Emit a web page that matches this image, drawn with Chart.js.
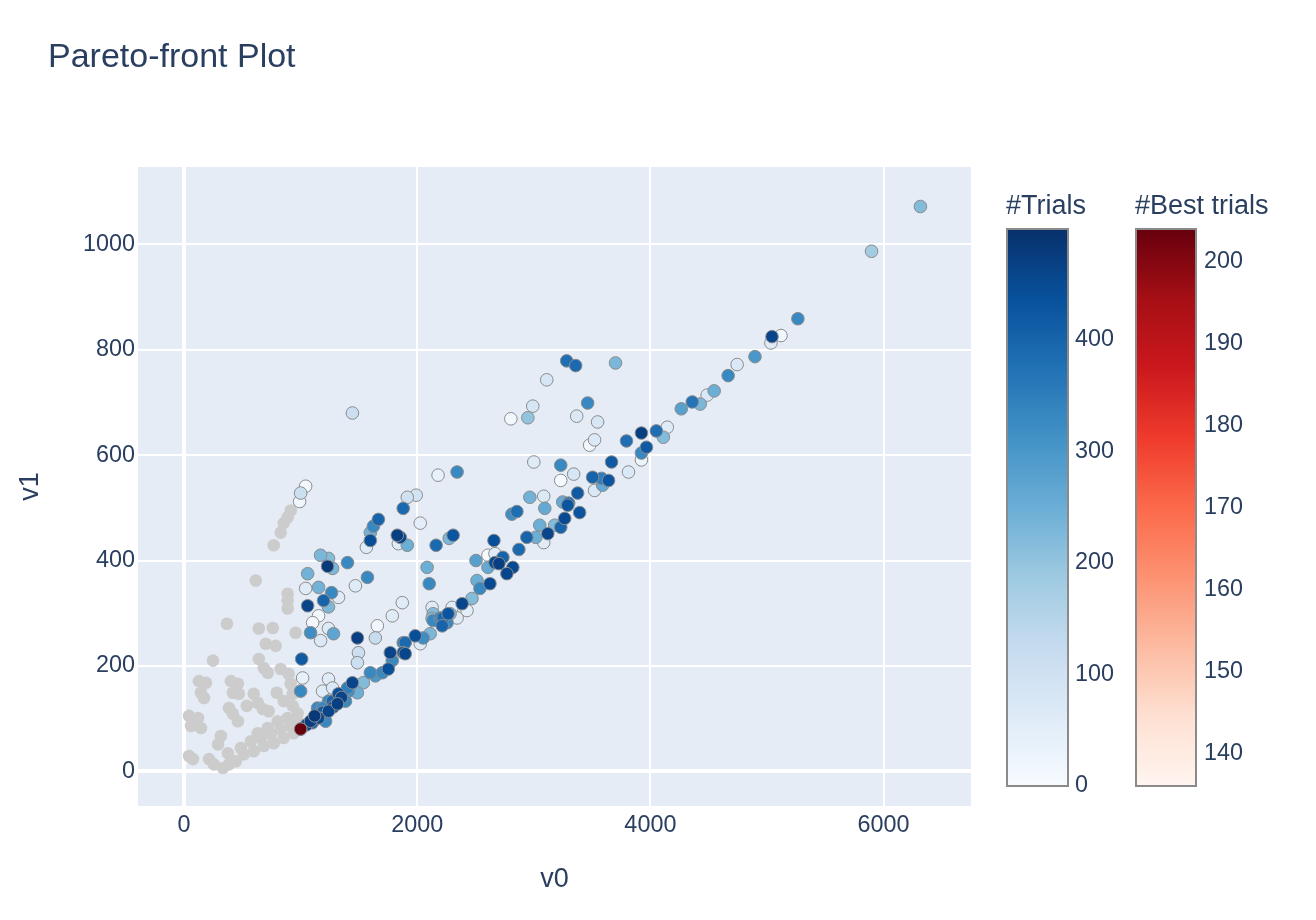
<!DOCTYPE html>
<html lang="en">
<head>
    <meta charset="UTF-8">
    <title>Pareto-front Plot</title>
    <script src="https://cdn.jsdelivr.net/npm/chart.js"></script>
    <style>
        html, body { margin: 0; padding: 0; background: #ffffff; }
        #wrap { width: 1316px; height: 920px; }
    </style>
</head>
<body>
    <div id="wrap">
        <canvas id="paretoChart" width="1316" height="920"></canvas>
    </div>

    <script>
        // axis ticks
        const xTicks = [0, 2000, 4000, 6000];
        const yTicks = [0, 200, 400, 600, 800, 1000];
        const trialTicks = [0, 100, 200, 300, 400];
        const bestTicks = [140, 150, 160, 170, 180, 190, 200];
        const trialRange = [0, 499];
        const bestRange = [136, 204];

        // trials outside the colour groups (grey)
        const greyV0 = [915, 889, 855, 829, 769, 615, 889, 889, 889, 368, 641, 761, 957, 701, 786, 248, 641, 684, 718, 829,
            897, 915, 932, 128, 188, 145, 171, 402, 462, 419, 470, 598, 632, 675, 726, 43, 120, 60, 145, 385,
            419, 462, 316, 291, 43, 77, 214, 256, 333, 385, 487, 573, 658, 744, 829, 915, 513, 598, 684, 769,
            855, 940, 376, 444, 632, 718, 803, 889, 974, 538, 855, 795, 932, 974];
        const greyV1 = [495, 482, 471, 453, 429, 362, 337, 324, 309, 280, 271, 272, 263, 242, 238, 210, 213, 196, 187, 194,
            185, 166, 147, 171, 168, 149, 139, 171, 166, 149, 147, 147, 130, 118, 114, 105, 101, 86, 82, 120,
            109, 95, 67, 51, 29, 23, 23, 13, 6, 13, 44, 57, 63, 70, 80, 86, 32, 38, 48, 53,
            63, 72, 34, 19, 72, 82, 95, 101, 95, 124, 133, 149, 124, 110];

        // trials coloured by trial number
        const trialV0 = [6316, 5897, 5265, 5043, 5120, 5034, 4897, 4744, 4667, 4547, 4487, 4359, 4427, 4265, 4145, 4111, 4051, 3923, 3966, 3923,
            3923, 3795, 3812, 3667, 3641, 3504, 3581, 3590, 3521, 3376, 3393, 3299, 3248, 3265, 3231, 3120, 3094, 3231, 3231, 3342,
            3111, 3282, 3359, 3701, 3462, 3368, 3547, 3521, 3479, 2991, 2803, 2949, 2342, 2179, 3000, 2966, 3085, 2812, 2855, 3291,
            3051, 3179, 3085, 2940, 3017, 2872, 2658, 2607, 2667, 2735, 2701, 2820, 2769, 2624, 2607, 2504, 2513, 2538, 2470, 2385,
            2427, 2308, 2274, 2162, 2085, 2103, 1880, 1855, 1915, 1915, 1991, 2026, 1872, 2137, 2137, 2222, 2214, 2282, 2342, 1983,
            2051, 1897, 1897, 2026, 1444, 1043, 1000, 991, 1667, 1624, 1598, 1598, 1564, 1829, 1838, 2667, 1171, 1239, 1231, 1274,
            1402, 1573, 1470, 1060, 1043, 1154, 1265, 1325, 1197, 1060, 1239, 1786, 1085, 1154, 1145, 1239, 1316, 1325, 1385, 1410,
            1444, 1402, 1487, 1538, 1598, 1641, 1701, 1752, 1769, 1786, 1880, 1880, 2111, 2128, 2197, 2265, 2256, 2299, 2128, 1658,
            1641, 1487, 1496, 1487, 1282, 1239, 1171, 1085, 1154, 1103, 1009, 1000, 1017, 1239, 1274, 1188, 1239, 1188, 1214, 1274,
            1050, 1120, 1190, 1280, 1350, 1100];
        const trialV1 = [1072, 987, 859, 825, 827, 813, 787, 772, 751, 722, 714, 701, 697, 688, 653, 634, 646, 642, 615, 604,
            591, 627, 568, 587, 552, 558, 556, 543, 533, 528, 491, 509, 511, 480, 463, 451, 499, 581, 552, 564,
            743, 779, 770, 775, 699, 674, 663, 629, 619, 693, 669, 671, 568, 562, 587, 520, 522, 488, 493, 505,
            467, 467, 434, 444, 444, 421, 438, 410, 413, 406, 394, 387, 375, 356, 387, 400, 362, 347, 328, 318,
            305, 448, 442, 429, 387, 356, 499, 444, 429, 520, 524, 471, 320, 299, 286, 291, 276, 299, 291, 257,
            253, 244, 223, 242, 680, 541, 528, 512, 478, 465, 453, 438, 425, 448, 432, 396, 410, 404, 389, 385,
            396, 368, 352, 375, 347, 349, 339, 330, 324, 314, 312, 295, 95, 101, 120, 114, 128, 147, 133, 152,
            168, 158, 149, 168, 187, 181, 187, 194, 225, 210, 225, 244, 261, 290, 291, 299, 282, 311, 311, 276,
            253, 253, 225, 206, 261, 271, 248, 263, 295, 282, 213, 152, 177, 175, 158, 152, 133, 120, 95, 133,
            88, 105, 112, 122, 140, 92];
        const trialNum = [220, 180, 330, 460, 20, 60, 300, 70, 330, 250, 70, 370, 230, 280, 60, 220, 380, 470, 420, 330,
            30, 380, 70, 420, 430, 400, 350, 260, 70, 420, 430, 380, 260, 450, 400, 460, 260, 330, 5, 80,
            80, 380, 390, 230, 330, 70, 80, 70, 10, 80, 10, 200, 330, 40, 60, 240, 70, 320, 380, 430,
            250, 220, 60, 400, 250, 390, 440, 5, 60, 400, 470, 450, 460, 450, 260, 280, 250, 330, 220, 460,
            50, 430, 230, 390, 250, 330, 390, 450, 250, 100, 90, 50, 60, 220, 330, 390, 400, 220, 60, 440,
            320, 390, 460, 60, 110, 10, 110, 20, 400, 330, 240, 440, 60, 470, 60, 450, 230, 220, 480, 230,
            330, 330, 60, 240, 60, 240, 330, 60, 400, 460, 230, 60, 470, 450, 330, 460, 470, 440, 330, 320,
            460, 350, 250, 220, 330, 300, 330, 440, 460, 330, 440, 350, 230, 220, 330, 430, 330, 60, 60, 20,
            120, 470, 110, 110, 270, 60, 70, 320, 10, 10, 420, 330, 40, 60, 70, 60, 330, 330, 330, 400,
            460, 480, 420, 440, 460, 400];

        // best trials
        const bestV0 = [1000, 1000];
        const bestV1 = [80, 80];
        const bestNum = [136, 204];

        const blues = [[0, [247, 251, 255]], [0.125, [222, 235, 247]], [0.25, [198, 219, 239]], [0.375, [158, 202, 225]],
            [0.5, [107, 174, 214]], [0.625, [66, 146, 198]], [0.75, [33, 113, 181]], [0.875, [8, 81, 156]], [1, [8, 48, 107]]];
        const reds = [[0, [255, 245, 240]], [0.125, [254, 224, 210]], [0.25, [252, 187, 161]], [0.375, [252, 146, 114]],
            [0.5, [251, 106, 74]], [0.625, [239, 59, 44]], [0.75, [203, 24, 29]], [0.875, [165, 15, 21]], [1, [103, 0, 13]]];

        function pickColor(stops, t) {
            t = Math.max(0, Math.min(1, t));
            for (let i = 1; i < stops.length; i++) {
                if (t <= stops[i][0]) {
                    const a = stops[i - 1], b = stops[i];
                    const f = (t - a[0]) / (b[0] - a[0]);
                    const c = a[1].map((v, k) => Math.round(v + (b[1][k] - v) * f));
                    return 'rgb(' + c.join(',') + ')';
                }
            }
            return 'rgb(' + stops[stops.length - 1][1].join(',') + ')';
        }

        const fontFamily = '"Liberation Sans", Arial, sans-serif';
        const textColor = '#2a3f5f';
        Chart.defaults.font.family = fontFamily;
        Chart.defaults.color = textColor;

        const greyPts = greyV0.map((v, i) => ({x: v, y: greyV1[i]}));
        // later trials are drawn on top
        const trialPts = trialV0.map((v, i) => ({x: v, y: trialV1[i], n: trialNum[i]}))
            .sort((a, b) => a.n - b.n);
        const trialColors = trialPts.map(p => pickColor(blues, (p.n - trialRange[0]) / (trialRange[1] - trialRange[0])));
        const bestPts = bestV0.map((v, i) => ({x: v, y: bestV1[i], n: bestNum[i]}));
        const bestColors = bestPts.map(p => pickColor(reds, (p.n - bestRange[0]) / (bestRange[1] - bestRange[0])));

        // plot background, title and the two colour bars
        const decor = {
            id: 'decor',
            beforeDraw(chart) {
                const {ctx, chartArea} = chart;
                ctx.save();
                ctx.fillStyle = '#E5ECF6';
                ctx.fillRect(chartArea.left, chartArea.top, chartArea.right - chartArea.left, chartArea.bottom - chartArea.top);
                ctx.restore();
            },
            afterDraw(chart) {
                const ctx = chart.ctx;
                ctx.save();
                ctx.fillStyle = textColor;
                ctx.font = '34px ' + fontFamily;
                ctx.textBaseline = 'alphabetic';
                ctx.textAlign = 'left';
                ctx.fillText('Pareto-front Plot', 48, 67);

                drawBar(ctx, 1007, 1068, trialRange, blues, trialTicks, '#Trials', 1075);
                drawBar(ctx, 1136, 1196, bestRange, reds, bestTicks, '#Best trials', 1204);
                ctx.restore();
            }
        };

        function drawBar(ctx, x0, x1, range, stops, ticks, title, labelX) {
            const top = 229, bot = 786;
            const g = ctx.createLinearGradient(0, bot, 0, top);
            stops.forEach(s => g.addColorStop(s[0], 'rgb(' + s[1].join(',') + ')'));
            ctx.fillStyle = g;
            ctx.fillRect(x0, top, x1 - x0, bot - top);
            ctx.strokeStyle = '#8a8a8a';
            ctx.lineWidth = 2;
            ctx.strokeRect(x0, top, x1 - x0, bot - top);

            ctx.fillStyle = textColor;
            ctx.font = '27px ' + fontFamily;
            ctx.textBaseline = 'alphabetic';
            ctx.fillText(title, x0 - 1, 214);

            ctx.font = '23.4px ' + fontFamily;
            ctx.textBaseline = 'middle';
            ticks.forEach(v => {
                const y = bot - (v - range[0]) / (range[1] - range[0]) * (bot - top);
                ctx.fillText(String(v), labelX, y);
            });
        }

        const gridWidth = c => (c.tick && c.tick.value === 0 ? 4 : 2);

        new Chart(document.getElementById('paretoChart'), {
            type: 'scatter',
            data: {
                datasets: [
                    {
                        label: 'Best trials',
                        data: bestPts,
                        order: 0,
                        pointBackgroundColor: bestColors,
                        pointBorderColor: '#8c8c8c',
                        pointBorderWidth: 1,
                        pointRadius: 6.3
                    },
                    {
                        label: 'Trials',
                        data: trialPts,
                        order: 1,
                        pointBackgroundColor: trialColors,
                        pointBorderColor: '#8c8c8c',
                        pointBorderWidth: 1,
                        pointRadius: 6.3
                    },
                    {
                        label: 'Other trials',
                        data: greyPts,
                        order: 2,
                        pointBackgroundColor: '#cccccc',
                        pointBorderWidth: 0,
                        pointRadius: 6.3
                    }
                ]
            },
            options: {
                responsive: false,
                animation: false,
                layout: { padding: { top: 167, right: 345, bottom: 0, left: 0 } },
                plugins: {
                    legend: { display: false },
                    tooltip: { enabled: false }
                },
                scales: {
                    x: {
                        type: 'linear',
                        min: -395,
                        max: 6750,
                        afterBuildTicks: s => { s.ticks = xTicks.map(v => ({value: v})); },
                        afterFit: s => { s.height = 114; },
                        grid: { color: '#ffffff', lineWidth: gridWidth, drawTicks: false },
                        border: { display: false },
                        ticks: { padding: 6, font: { size: 23.4 }, callback: v => String(v) },
                        title: { display: true, text: 'v0', font: { size: 27 }, padding: { top: 0, bottom: 24 } }
                    },
                    y: {
                        type: 'linear',
                        min: -66,
                        max: 1147,
                        afterBuildTicks: s => { s.ticks = yTicks.map(v => ({value: v})); },
                        afterFit: s => { s.width = 138; },
                        grid: { color: '#ffffff', lineWidth: gridWidth, drawTicks: false },
                        border: { display: false },
                        ticks: { padding: 3, font: { size: 23.4 }, callback: v => String(v) },
                        title: { display: true, text: 'v1', font: { size: 27 }, padding: { top: 14, bottom: 0 } }
                    }
                }
            },
            plugins: [decor]
        });
    </script>
</body>
</html>
